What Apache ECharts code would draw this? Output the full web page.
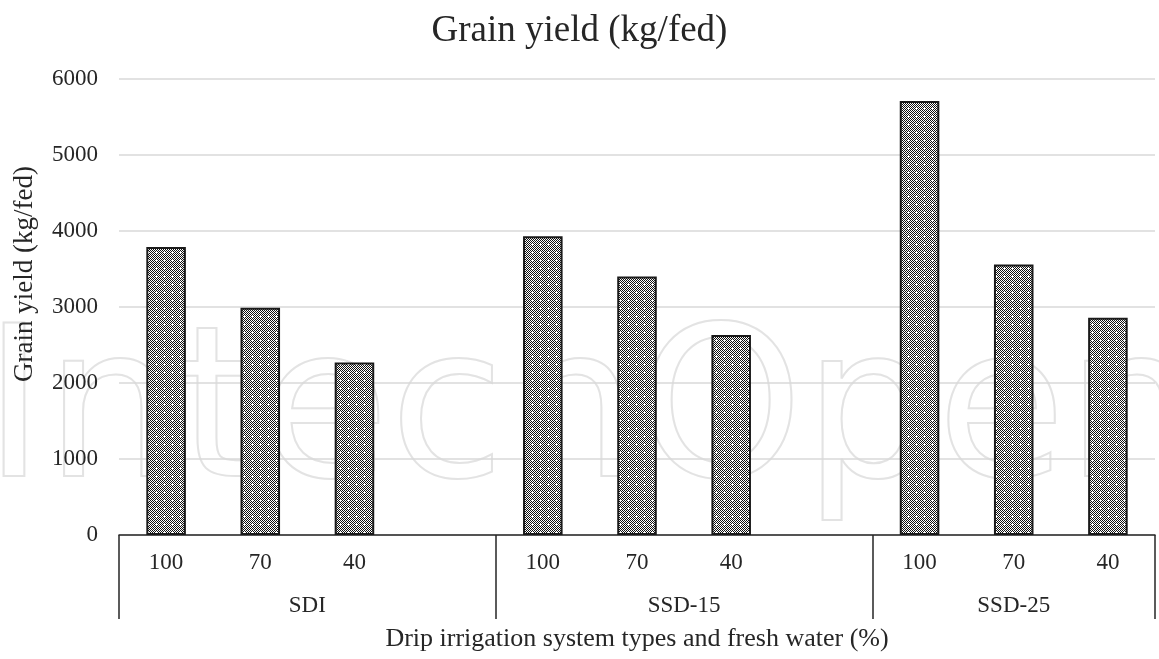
<!DOCTYPE html>
<html>
<head>
<meta charset="utf-8">
<script src="https://cdn.jsdelivr.net/npm/echarts@6/dist/echarts.min.js"></script>
<style>
  html, body { margin: 0; padding: 0; background: #fff; }
  #chart { width: 1159px; height: 659px; }
</style>
</head>
<body>
<div id="chart"></div>
<script>
// categories (empty slot = gap between groups)
let waterLevels = ['100', '70', '40', '', '100', '70', '40', '', '100', '70', '40'];
let groupNames = ['SDI', 'SSD-15', 'SSD-25'];
let groupCenters = [2, 6, 9.5];
let groupEdges = [0, 4, 8, 11];
let grainYield = [3790, 2990, 2270, null, 3930, 3400, 2630, null, 5710, 3560, 2860];
let yTicks = [0, 1000, 2000, 3000, 4000, 5000, 6000];

// checkered fill like the original bars
function makePattern() {
  let c = document.createElement('canvas');
  c.width = 8; c.height = 8;
  let ctx = c.getContext('2d');
  ctx.fillStyle = '#fff';
  ctx.fillRect(0, 0, 8, 8);
  ctx.fillStyle = '#111';
  for (let y = 0; y < 8; y++) {
    for (let x = 0; x < 8; x++) {
      if ((x + y) % 2 === 0) ctx.fillRect(x, y, 1, 1);
    }
  }
  ctx.fillStyle = '#fff';
  [[4, 3], [3, 4], [4, 4], [5, 4], [4, 5]].forEach(p => ctx.fillRect(p[0], p[1], 1, 1));
  return c;
}

let font = 'Liberation Serif';
let txt = '#262626';

let myChart = echarts.init(document.getElementById('chart'));
let option = {
  backgroundColor: '#fff',
  animation: false,
  title: {
    text: 'Grain yield (kg/fed)',
    left: 'center',
    top: 8,
    textStyle: { fontFamily: font, fontSize: 37, fontWeight: 'normal', color: txt }
  },
  // faint publisher watermark behind the plot
  graphic: [{
    type: 'text',
    left: -18,
    top: 315,
    z: -10,
    silent: true,
    style: {
      text: 'IntechOpen',
      font: '400 210px "DejaVu Sans"',
      fill: 'rgba(0,0,0,0)',
      stroke: '#e3e3e3',
      lineWidth: 2
    }
  }],
  grid: { left: 119, right: 4, top: 79, bottom: 124, outerBoundsMode: 'none' },
  xAxis: [
    {
      type: 'category',
      data: waterLevels,
      axisLine: { show: true, lineStyle: { color: '#262626', width: 1.5 } },
      axisTick: { show: false },
      axisLabel: { fontFamily: font, fontSize: 23, color: txt, margin: 16, interval: 0 }
    },
    {
      type: 'value',
      min: 0,
      max: 11,
      position: 'bottom',
      axisLine: { show: false },
      splitLine: { show: false },
      axisTick: {
        show: true,
        customValues: groupEdges,
        length: 84,
        lineStyle: { color: '#262626', width: 1.5 }
      },
      axisLabel: {
        customValues: groupCenters,
        formatter: v => groupNames[groupCenters.indexOf(v)],
        fontFamily: font, fontSize: 23, color: txt, margin: 59
      },
      name: 'Drip irrigation system types and fresh water (%)',
      nameLocation: 'middle',
      nameGap: 91,
      nameTextStyle: { fontFamily: font, fontSize: 26, color: txt }
    }
  ],
  yAxis: {
    type: 'value',
    min: yTicks[0],
    max: yTicks[yTicks.length - 1],
    interval: 1000,
    axisLine: { show: false },
    axisTick: { show: false },
    axisLabel: { fontFamily: font, fontSize: 23, color: txt, margin: 21, formatter: v => String(v) },
    splitLine: { lineStyle: { color: '#d9d9d9', width: 1.5 } },
    name: 'Grain yield (kg/fed)',
    nameLocation: 'middle',
    nameGap: 81,
    nameTextStyle: { fontFamily: font, fontSize: 27, color: txt, padding: [0, 0, 0, 66] }
  },
  series: [{
    type: 'bar',
    data: grainYield,
    barWidth: '42%',
    itemStyle: {
      color: { image: makePattern(), repeat: 'repeat' },
      borderColor: '#1a1a1a',
      borderWidth: 2
    }
  }]
};
myChart.setOption(option);
</script>
</body>
</html>
